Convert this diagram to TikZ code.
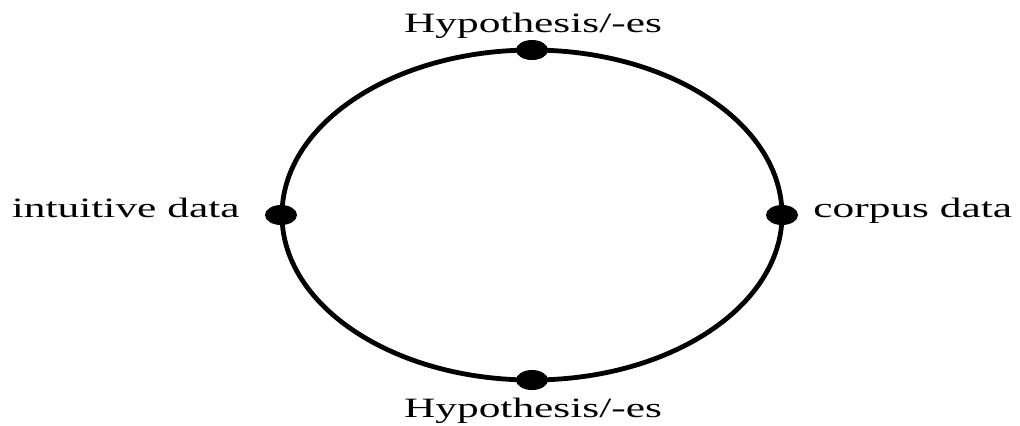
\documentclass[tikz,border=0pt]{standalone}
\usepackage{fontspec}
\setmainfont{Liberation Serif}[FakeStretch=1.55]
\usetikzlibrary{shapes.geometric}

\begin{document}
\begin{tikzpicture}[x=0.5pt, y=-0.5pt, font=\fontsize{14}{16}\selectfont,
    punto/.style={ellipse, fill=black, minimum width=16pt, minimum height=10pt, inner sep=0pt},
    etiqueta/.style={inner sep=0pt}]

    \useasboundingbox (0,0) rectangle (1020,425);

    % el ciclo
    \draw[line width=2.4pt] (532,215) ellipse [x radius=250, y radius=165];

    % puntos sobre el ciclo
    \node[punto] (arriba) at (532,50) {};
    \node[punto] (abajo) at (532,380) {};
    \node[punto] (izq) at (281,215) {};
    \node[punto] (der) at (782,215) {};

    % etiquetas
    \node[etiqueta, anchor=base] (hiparriba) at (533,32) {Hypothesis/-es};
    \node[etiqueta, anchor=base] (hipabajo) at (533,417) {Hypothesis/-es};
    \node[etiqueta, anchor=base east] (intuitivos) at (240,217) {intuitive data};
    \node[etiqueta, anchor=base west] (corpus) at (813,217) {corpus data};

\end{tikzpicture}
\end{document}
